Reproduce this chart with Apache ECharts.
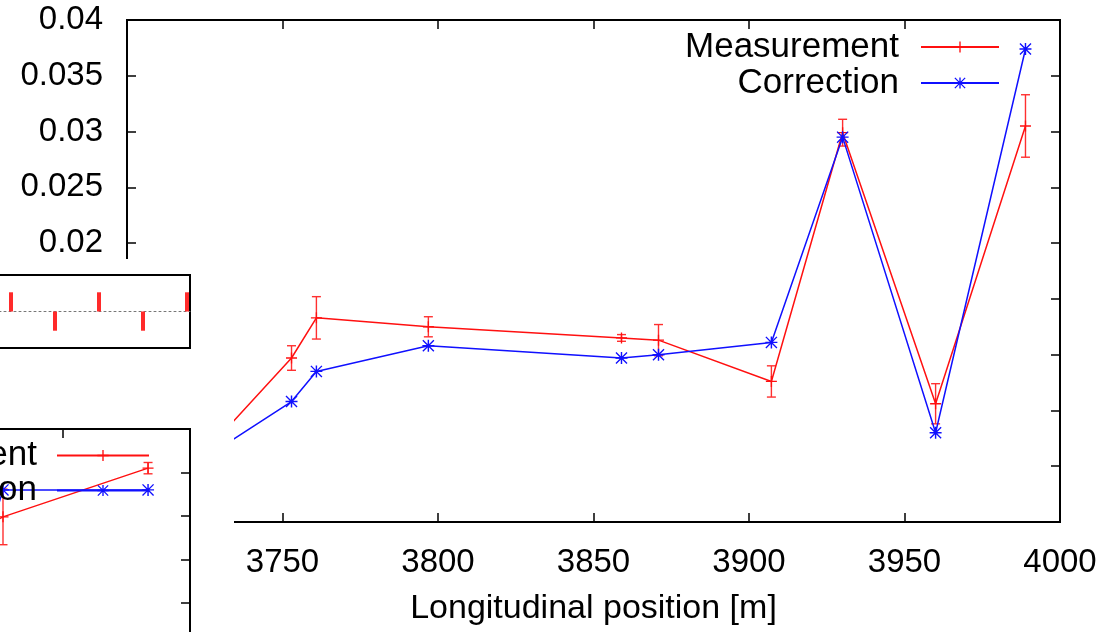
<!DOCTYPE html>
<html>
<head>
<meta charset="utf-8">
<script src="https://cdn.jsdelivr.net/npm/echarts@6.0.0/dist/echarts.min.js"></script>
<style>
html, body { margin: 0; padding: 0; background: #fff; }
#chart { width: 1106px; height: 632px; }
</style>
</head>
<body>
<div id="chart"></div>
<script>
// main plot: longitudinal position vs value
const positions   = [3723.6, 3752.9, 3760.9, 3796.9, 3859.0, 3870.9, 3907.2, 3930.1, 3960.0, 3988.9];
const measurement = [0.0008, 0.0097, 0.0133, 0.0125, 0.0115, 0.0113, 0.0076, 0.0299, 0.0056, 0.0305];
const measErr     = [0.0008, 0.0011, 0.0019, 0.0009, 0.0003, 0.0014, 0.0014, 0.0012, 0.0018, 0.0028];
const correction  = [0.0005, 0.0058, 0.0085, 0.0108, 0.0097, 0.0100, 0.0111, 0.0295, 0.0030, 0.0374];

// inset A (thin bars around a dotted zero line)
const insetAX = [1, 2, 3, 4, 5];
const insetAY = [1, -1, 1, -1, 1];

// inset B (lower left panel)
const insetBX    = [4.5, 6.0, 15.67];
const insetBMeas = [2.7, 2.98, 4.10];
const insetBErr  = [0.3, 0.64, 0.13];
const insetBCorr = [1.9, 3.6, 3.6];

const FONT = "'Liberation Sans', Arial, sans-serif";
const RED = '#ff1010';
const BLUE = '#1010ff';
const plusPath = 'path://M0,4.4H10V5.6H0Z M4.4,0H5.6V10H4.4Z';
const starPath = 'path://M0,4.4H10V5.6H0Z M4.4,0H5.6V10H4.4Z M0.8,0L10,9.2L9.2,10L0,0.8Z M9.2,0L10,0.8L0.8,10L0,9.2Z';

function errorBarItem(params, api) {
    const x = api.value(0), y = api.value(1), e = api.value(2);
    const top = api.coord([x, y + e]);
    const bot = api.coord([x, y - e]);
    const half = 4.5;
    const style = { stroke: '#ff3030', lineWidth: 1.4 };
    return {
        type: 'group',
        children: [
            { type: 'line', shape: { x1: top[0], y1: top[1], x2: bot[0], y2: bot[1] }, style: style },
            { type: 'line', shape: { x1: top[0] - half, y1: top[1], x2: top[0] + half, y2: top[1] }, style: style },
            { type: 'line', shape: { x1: bot[0] - half, y1: bot[1], x2: bot[0] + half, y2: bot[1] }, style: style }
        ]
    };
}

const tickStyle = { color: '#000', width: 1.5 };
const hidden = { show: false };
const noLine = { show: false, onZero: false };

let chart = echarts.init(document.getElementById('chart'));
chart.setOption({
    animation: false,
    textStyle: { fontFamily: FONT },
    grid: [
        { left: 127, right: 46, top: 20, bottom: 110, show: true, borderColor: '#000', borderWidth: 2,
          outerBoundsMode: 'none' },
        { left: -121, width: 311, top: 275, height: 73, show: true, borderColor: '#000', borderWidth: 2,
          backgroundColor: '#fff', zlevel: 2, outerBoundsMode: 'none' },
        { left: -237, width: 427, top: 429, height: 217.5, show: true, borderColor: '#000', borderWidth: 2,
          backgroundColor: '#fff', zlevel: 2, outerBoundsMode: 'none' }
    ],
    xAxis: [
        { gridIndex: 0, type: 'value', min: 3700, max: 4000, interval: 50,
          name: 'Longitudinal position [m]', nameLocation: 'middle', nameGap: 70,
          nameTextStyle: { fontSize: 34, color: '#000', fontFamily: FONT },
          axisLine: noLine, splitLine: hidden,
          axisTick: { inside: true, length: 9, lineStyle: tickStyle },
          axisLabel: { fontSize: 33, color: '#000', margin: 24, fontFamily: FONT,
                       formatter: (v) => String(v) } },
        { gridIndex: 0, type: 'value', position: 'top', min: 3700, max: 4000, interval: 50,
          axisLine: noLine, splitLine: hidden, axisLabel: hidden,
          axisTick: { inside: true, length: 9, lineStyle: tickStyle } },
        { gridIndex: 1, type: 'value', min: -2, max: 5.068, zlevel: 2,
          axisLine: { onZero: true, lineStyle: { color: '#777', width: 1, type: [2, 3] } },
          axisTick: hidden, axisLabel: hidden, splitLine: hidden },
        { gridIndex: 2, type: 'value', position: 'top', min: -10, max: 18.467, interval: 10, zlevel: 2,
          axisLine: noLine, axisLabel: hidden, splitLine: hidden,
          axisTick: { inside: true, length: 9, lineStyle: tickStyle } }
    ],
    yAxis: [
        { gridIndex: 0, type: 'value', min: -0.005, max: 0.04, interval: 0.005,
          axisLine: noLine, splitLine: hidden,
          axisTick: { inside: true, length: 9, lineStyle: tickStyle },
          axisLabel: { fontSize: 33, color: '#000', margin: 24, fontFamily: FONT } },
        { gridIndex: 0, type: 'value', position: 'right', min: -0.005, max: 0.04, interval: 0.005,
          axisLine: noLine, splitLine: hidden, axisLabel: hidden,
          axisTick: { inside: true, length: 9, lineStyle: tickStyle } },
        { gridIndex: 1, type: 'value', min: -1.9, max: 1.9, zlevel: 2,
          axisLine: noLine, axisTick: hidden, axisLabel: hidden, splitLine: hidden },
        { gridIndex: 2, type: 'value', position: 'right', min: 0, max: 5, interval: 1, zlevel: 2,
          axisLine: noLine, axisLabel: hidden, splitLine: hidden,
          axisTick: { inside: true, length: 9, lineStyle: tickStyle } }
    ],
    legend: [
        { data: ['Measurement', 'Correction'], orient: 'vertical', align: 'right',
          right: 106, top: 29, padding: 0, itemGap: 0, itemWidth: 78, itemHeight: 14,
          selectedMode: false,
          textStyle: { fontSize: 35, color: '#000', lineHeight: 36, padding: [0, 17, 0, 0], fontFamily: FONT } },
        { data: ['Measurement', 'Correction'], orient: 'vertical', align: 'right', zlevel: 2,
          right: 956, top: 438, padding: 0, itemGap: 0, itemWidth: 92, itemHeight: 14,
          selectedMode: false,
          textStyle: { fontSize: 35, color: '#000', lineHeight: 35, padding: [0, 15, 0, 0], fontFamily: FONT } }
    ],
    graphic: [
        { type: 'rect', zlevel: 1, z: 100, shape: { x: 0, y: 259, width: 234, height: 373 },
          style: { fill: '#fff' } }
    ],
    series: [
        { name: 'Measurement', type: 'line', xAxisIndex: 0, yAxisIndex: 0,
          data: positions.map((x, i) => [x, measurement[i]]),
          symbol: plusPath, symbolSize: 11,
          lineStyle: { color: RED, width: 1.5 }, itemStyle: { color: RED }, z: 3 },
        { type: 'custom', xAxisIndex: 0, yAxisIndex: 0, renderItem: errorBarItem,
          data: positions.map((x, i) => [x, measurement[i], measErr[i]]), z: 3 },
        { name: 'Correction', type: 'line', xAxisIndex: 0, yAxisIndex: 0,
          data: positions.map((x, i) => [x, correction[i]]),
          symbol: starPath, symbolSize: 12,
          lineStyle: { color: BLUE, width: 1.5 }, itemStyle: { color: BLUE }, z: 4 },

        { type: 'bar', xAxisIndex: 2, yAxisIndex: 2, zlevel: 2, barWidth: 4,
          data: insetAX.map((x, i) => [x, insetAY[i]]),
          itemStyle: { color: '#ff2a2a' } },

        { name: 'Measurement', type: 'line', xAxisIndex: 3, yAxisIndex: 3, zlevel: 2,
          data: insetBX.map((x, i) => [x, insetBMeas[i]]),
          symbol: plusPath, symbolSize: 11,
          lineStyle: { color: RED, width: 1.5 }, itemStyle: { color: RED } },
        { type: 'custom', xAxisIndex: 3, yAxisIndex: 3, zlevel: 2, renderItem: errorBarItem,
          data: insetBX.map((x, i) => [x, insetBMeas[i], insetBErr[i]]) },
        { name: 'Correction', type: 'line', xAxisIndex: 3, yAxisIndex: 3, zlevel: 2,
          data: insetBX.map((x, i) => [x, insetBCorr[i]]),
          symbol: starPath, symbolSize: 12,
          lineStyle: { color: BLUE, width: 1.5 }, itemStyle: { color: BLUE } }
    ]
});
window.addEventListener('resize', () => {
    chart.resize();
});
</script>
</body>
</html>
